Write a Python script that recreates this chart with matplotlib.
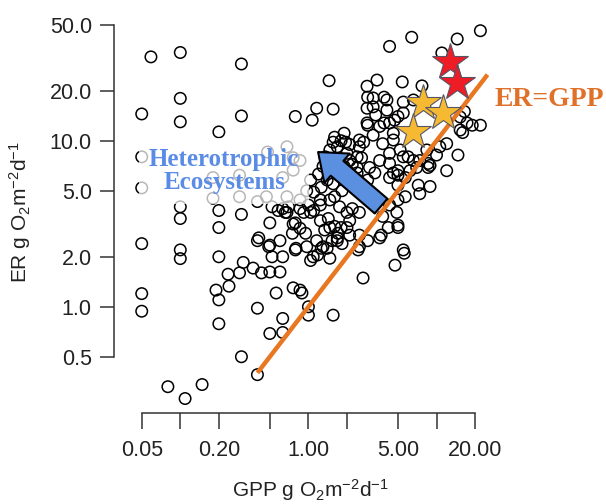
import matplotlib
matplotlib.use("Agg")
import matplotlib.pyplot as plt
from matplotlib.ticker import NullLocator

plt.rcParams['font.family'] = ['Liberation Sans', 'DejaVu Sans']
plt.rcParams['mathtext.fontset'] = 'custom'
plt.rcParams['mathtext.rm'] = 'Liberation Sans'
plt.rcParams['mathtext.it'] = 'Liberation Sans:italic'

# daily GPP vs ER (g O2 m-2 d-1)
gpp = [0.059, 0.10, 0.30, 0.10, 0.05, 0.10, 0.30, 0.20, 0.79,
       0.05, 0.05,
       0.10, 0.10, 0.20, 0.20, 0.30, 0.40, 0.50, 0.58, 0.66, 0.79,
       0.05, 0.40, 0.50,
       0.10, 0.10, 0.20, 0.52, 0.63, 0.79, 0.31, 0.236, 0.29, 0.24, 0.19, 0.20,
       0.37, 0.43, 0.50, 0.60, 0.56, 0.76,
       0.05, 0.05, 0.40, 0.20, 0.63, 0.50, 0.63, 0.30, 0.40, 0.080, 0.109, 0.148,
       1.0, 1.0, 1.56, 2.67, 0.86, 0.89,
       1.09, 1.04, 1.18, 1.47, 1.26, 1.40, 1.83, 2.44, 3.6, 4.74, 5.6, 1.68, 2.5,
       0.76, 0.86, 0.95, 1.04, 1.0, 1.24, 1.24, 1.43, 1.34, 1.16, 0.97, 0.80,
       1.53, 1.7, 1.8, 2.1, 1.6, 2.0, 2.2, 2.5, 1.75, 1.6, 1.83, 1.56, 1.4, 1.26,
       2.1, 2.05, 2.5, 2.4, 1.68, 1.47, 1.68, 2.0, 2.4, 2.5, 2.1, 1.56, 1.8,
       0.52, 0.63, 0.86, 1.1, 0.49, 0.60, 0.75, 0.41,
       0.18, 0.29, 0.48, 0.68, 0.76, 0.47, 0.18, 0.29, 0.68, 0.76, 0.86, 1.04, 0.63, 0.97,
       1.45, 1.16, 1.07, 1.56, 2.87, 2.87, 2.87, 1.6, 1.9, 1.95, 2.7,
       22, 14.5, 6.4, 4.3, 11.0, 3.43, 5.4, 7.7, 2.9, 3.2, 4.1, 4.1, 2.9, 3.6, 4.3,
       5.5, 5.0, 2.5, 3.2, 3.8, 4.6, 4.3, 5.2, 6.0, 6.6, 7.0, 8.6, 12.0, 14.7, 16,
       19, 22, 15.3, 16.5, 10.6, 12, 8.4, 8.6, 7.2, 8.9, 4.3, 5.0, 3.6, 3.0, 2.6,
       2.1, 2.0, 2.2, 2.4, 2.9, 3.3, 4.3, 5.0, 5.7, 5.7, 5.0, 7.4, 4.9, 3.8, 4.2,
       5.0, 2.1, 1.1, 0.86, 0.70, 0.68, 0.92, 1.24, 1.47, 1.47, 2.0, 1.68, 1.3,
       2.5, 2.9,
       8.9, 10, 4.3, 5.0, 3.7, 5.5, 4.6, 5.0, 6.2, 7.4, 5.5,
       3.2, 3.9, 3.35, 3.9, 4.7, 5.5, 6.6, 17.3, 15.3, 4.6,
       1.3, 1.2, 1.35, 1.5, 1.9, 1.75, 2.2, 1.9]
er = [32, 34, 29, 18, 14.5, 13, 14.1, 11.3, 14,
      8.0, 5.2,
      4.0, 3.4, 3.8, 3.0, 3.6, 4.3, 3.2, 3.8, 3.7, 3.2,
      2.4, 2.5, 2.35,
      2.2, 1.95, 2.0, 2.0, 2.0, 2.2, 1.85, 1.57, 1.6, 1.33, 1.26, 1.1,
      1.71, 1.6, 1.62, 1.62, 1.21, 1.3,
      1.2, 0.94, 0.98, 0.79, 0.85, 0.69, 0.70, 0.50, 0.39, 0.33, 0.28, 0.34,
      1.0, 0.89, 0.89, 1.49, 1.26, 1.21,
      2.0, 1.9, 2.05, 1.96, 2.25, 2.25, 2.4, 2.2, 2.6, 1.78, 2.1, 2.6, 2.7,
      3.15, 2.97, 2.77, 3.7, 4.1, 4.1, 3.3, 3.4, 2.9, 2.5, 2.3, 2.25,
      2.5, 2.77, 3.0, 3.3, 3.05, 3.7, 3.9, 3.7, 4.0, 4.6, 5.0, 5.5, 5.8, 5.25,
      5.5, 6.5, 5.0, 6.4, 7.6, 8.8, 9.2, 8.4, 8.0, 9.2, 9.5, 9.8, 10.0,
      4.0, 3.9, 3.9, 3.8, 2.3, 2.5, 2.77, 2.6,
      6.0, 6.2, 8.55, 9.2, 7.9, 4.6, 4.5, 4.6, 4.6, 6.65, 7.6, 5.8, 6.0, 5.0,
      23, 15.7, 13.3, 15.5, 21.3, 15.7, 12.8, 10.5, 11.1, 9.8, 9.8,
      46, 41, 42, 37, 33.8, 23.2, 22.6, 21.4, 18.3, 16, 17.6, 15.3, 12.4, 12.2, 12.8,
      14.7, 14.0, 10.1, 10.8, 9.6, 10.1, 8.4, 8.8, 8.0, 7.6, 6.9, 6.9, 6.6, 8.2, 11.2,
      12.4, 12.4, 13.9, 15.0, 9.2, 9.6, 8.8, 7.3, 5.4, 5.3, 7.3, 6.6, 7.6, 6.9, 7.9,
      7.6, 6.3, 5.8, 6.9, 5.8, 6.4, 6.0, 5.4, 6.0, 4.6, 4.4, 4.8, 3.7, 3.5, 3.0,
      3.0, 2.7, 4.9, 4.4, 4.0, 3.7, 3.7, 4.4, 4.4, 3.0, 3.0, 2.5, 2.3,
      2.3, 2.5,
      7.1, 8.2, 4.1, 3.1, 2.7, 2.2, 6.4, 6.2, 6.6, 7.6, 8.0,
      18.1, 18.3, 14.3, 12.8, 13.3, 17.1, 17.6, 12.8, 11.6, 11.1,
      7.0, 6.3, 8.0, 6.8, 7.0, 6.2, 7.2, 5.8]

# highlighted sites
star_gpp_orange = [7.85, 11.2, 6.56]
star_er_orange = [16.9, 14.7, 11.3]
star_gpp_red = [12.8, 14.5]
star_er_red = [29.8, 22.3]

one_to_one = [0.4, 25]

xticks = [0.05, 0.1, 0.2, 0.5, 1, 2, 5, 10, 20]
xticklabels = ['0.05', '', '0.20', '', '1.00', '', '5.00', '', '20.00']
yticks = [0.5, 1, 2, 5, 10, 20, 50]
yticklabels = ['0.5', '1.0', '2.0', '5.0', '10.0', '20.0', '50.0']

fig = plt.figure(figsize=(6.06, 5.04), dpi=100)
ax = fig.add_axes([130 / 606, 1 - 405 / 504, 355 / 606, 390 / 504])
ax.set_xscale('log')
ax.set_yscale('log')
ax.set_xlim(0.0405, 23.9)
ax.set_ylim(0.256, 57.2)

ax.scatter(gpp, er, s=68, facecolors='none', edgecolors='black',
           linewidths=1.1, zorder=2, clip_on=False)

ax.text(0.22, 6.57, 'Heterotrophic\nEcosystems', ha='center', va='center',
        multialignment='center', fontsize=18, fontweight='bold',
        family=['Liberation Serif', 'DejaVu Serif'], color='#5A8CE6',
        linespacing=1.05, zorder=3,
        bbox=dict(boxstyle='square,pad=0.4', fc='white', ec='none', alpha=0.72))

ax.plot(one_to_one, one_to_one, color='#E87722', lw=3.2,
        solid_capstyle='butt', zorder=4, clip_on=False)
ax.text(28.6, 17.8, 'ER=GPP', ha='left', va='center', fontsize=20,
        fontweight='bold', family=['Liberation Serif', 'DejaVu Serif'],
        color='#E0712A', clip_on=False)

ax.annotate('', xy=(1.19, 8.55), xytext=(3.69, 4.04),
            arrowprops=dict(arrowstyle='simple,head_length=0.9,head_width=1.4,tail_width=0.7',
                            fc='#5B8FE0', ec='black', lw=1.5,
                            shrinkA=0, shrinkB=0, mutation_scale=20),
            zorder=5)

ax.plot(star_gpp_red, star_er_red, linestyle='none', marker='*', markersize=27,
        markerfacecolor='#EE1C25', markeredgecolor='#555566',
        markeredgewidth=0.8, zorder=6)
ax.plot(star_gpp_orange, star_er_orange, linestyle='none', marker='*', markersize=27,
        markerfacecolor='#F6B932', markeredgecolor='#555566',
        markeredgewidth=0.8, zorder=6)

for side in ['top', 'right']:
    ax.spines[side].set_visible(False)
ax.spines['left'].set_position(('outward', 11.5))
ax.spines['bottom'].set_position(('outward', 5.8))
ax.spines['left'].set_bounds(0.5, 50)
ax.spines['bottom'].set_bounds(0.05, 20)
for side in ['left', 'bottom']:
    ax.spines[side].set_color('#333333')
    ax.spines[side].set_linewidth(1.1)

ax.set_xticks(xticks)
ax.set_xticklabels(xticklabels)
ax.set_yticks(yticks)
ax.set_yticklabels(yticklabels)
ax.xaxis.set_minor_locator(NullLocator())
ax.yaxis.set_minor_locator(NullLocator())
ax.tick_params(axis='x', length=11.5, width=1.1, color='#333333',
               labelsize=15.5, labelcolor='#222222', pad=8)
ax.tick_params(axis='y', length=10, width=1.1, color='#333333',
               labelsize=15.5, labelcolor='#222222', pad=6)

fig.text(310 / 606, 1 - 490 / 504, 'GPP g O$_2$m$^{-2}$d$^{-1}$',
         ha='center', va='center', fontsize=15, color='#222222')
fig.text(20 / 606, 1 - 212 / 504, 'ER g O$_2$m$^{-2}$d$^{-1}$',
         ha='center', va='center', rotation=90, fontsize=15, color='#222222')

fig.savefig('out.png', dpi=100)
